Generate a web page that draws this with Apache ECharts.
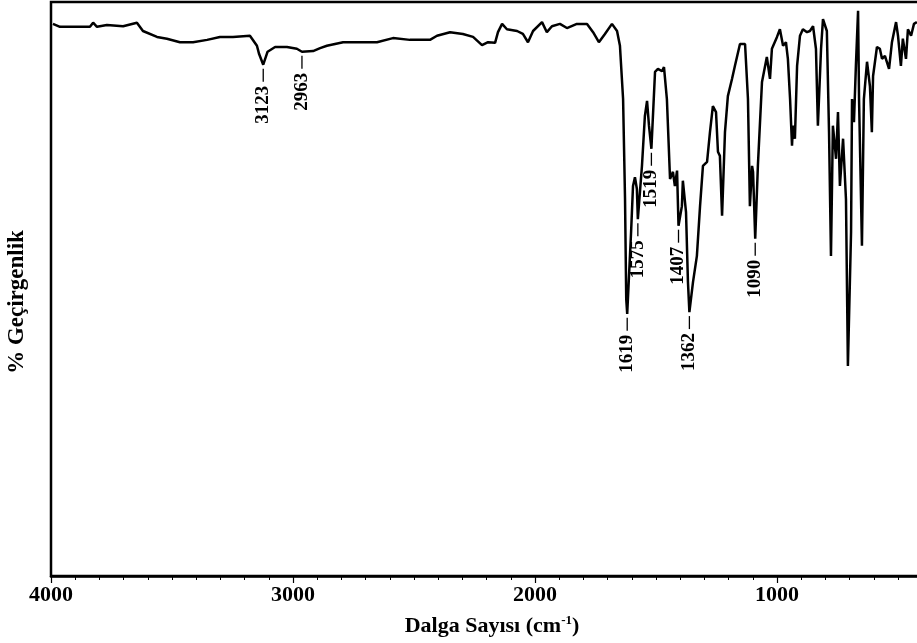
<!DOCTYPE html>
<html>
<head>
<meta charset="utf-8">
<script src="https://cdn.jsdelivr.net/npm/echarts@6/dist/echarts.min.js"></script>
<style>
  html, body { margin: 0; padding: 0; background: #fff; }
  #chart { width: 917px; height: 643px; }
</style>
</head>
<body>
<div id="chart"></div>
<script>
// IR spektrumu: dalga sayısı (cm-1) ve % geçirgenlik
const wavenumber = [
  3992, 3963, 3909, 3839, 3826, 3810, 3769, 3702, 3645, 3620, 3562, 3521, 3467, 3413, 3355, 3302,
  3248, 3178, 3149, 3140, 3123, 3105, 3074, 3025, 2984, 2963, 2917, 2888, 2860, 2793, 2723, 2653,
  2587, 2517, 2434, 2405, 2351, 2298, 2256, 2219, 2194, 2165, 2153, 2136, 2116, 2074, 2050, 2029,
  2008, 1971, 1951, 1930, 1897, 1868, 1827, 1785, 1760, 1736, 1711, 1682, 1661, 1649, 1636, 1628,
  1623, 1619, 1603, 1595, 1587, 1579, 1575, 1558, 1546, 1537, 1529, 1519, 1504, 1492, 1475, 1467,
  1455, 1442, 1430, 1422, 1413, 1407, 1393, 1389, 1376, 1368, 1362, 1347, 1331, 1318, 1306, 1289,
  1277, 1265, 1252, 1244, 1236, 1227, 1215, 1203, 1186, 1174, 1153, 1132, 1120, 1112, 1103, 1099,
  1090, 1079, 1062, 1042, 1029, 1021, 1000, 988, 975, 963, 955, 946, 938, 934, 926, 917,
  905, 893, 876, 864, 851, 839, 831, 818, 810, 794, 785, 777, 769, 756, 748, 740,
  727, 715, 707, 694, 690, 682, 674, 665, 661, 649, 641, 628, 616, 608, 603, 587,
  575, 566, 554, 537, 525, 508, 500, 488, 480, 467, 459, 446, 434, 422
]
const transmittance = [
  96.3, 95.8, 95.8, 95.8, 96.5, 95.8, 96.1, 95.9, 96.5, 95.1, 94.1, 93.8, 93.2, 93.2, 93.6, 94.1,
  94.1, 94.3, 92.6, 91.2, 89.4, 91.6, 92.4, 92.4, 92.1, 91.6, 91.7, 92.2, 92.6, 93.2, 93.2, 93.2,
  93.9, 93.6, 93.6, 94.3, 94.9, 94.6, 94.1, 92.7, 93.2, 93.1, 94.9, 96.3, 95.4, 95.1, 94.6, 93.2,
  95.1, 96.6, 94.9, 95.9, 96.3, 95.6, 96.3, 96.3, 94.9, 93.2, 94.6, 96.3, 95.1, 92.6, 83.6, 66.7,
  49.8, 47.3, 61.1, 68.9, 70.4, 68.4, 63.3, 72.3, 80.7, 83.3, 79.1, 75.2, 88.2, 88.7, 88.3, 89.0,
  83.6, 70.1, 71.3, 68.9, 71.5, 62.2, 65.5, 69.8, 64.5, 52.7, 47.6, 52.7, 57.1, 65.5, 72.3, 73.0,
  78.0, 82.4, 81.4, 74.7, 74.0, 63.9, 78.0, 84.1, 87.0, 89.2, 92.9, 92.9, 83.6, 65.5, 72.3, 71.3,
  60.0, 72.3, 86.5, 90.7, 87.0, 92.1, 94.1, 95.4, 92.6, 93.2, 90.4, 83.6, 75.7, 79.1, 76.9, 89.2,
  94.3, 95.4, 94.9, 95.1, 95.9, 92.1, 79.1, 92.1, 97.1, 95.1, 78.0, 57.1, 79.1, 73.5, 81.4, 68.9,
  76.9, 66.7, 38.5, 61.1, 83.6, 79.7, 89.2, 98.5, 83.6, 58.8, 83.6, 89.9, 85.8, 78.0, 87.5, 92.4,
  92.1, 90.4, 90.9, 88.7, 93.2, 96.6, 94.3, 89.2, 93.8, 90.4, 95.4, 94.3, 96.3, 96.6
]

// işaretlenen pikler
const peakWavenumbers = [3123, 2963, 1619, 1575, 1519, 1407, 1362, 1090]
const peakLabels = ['3123', '2963', '1619', '1575', '1519', '1407', '1362', '1090']

const SERIF = '"Liberation Serif", "Times New Roman", serif'

const spectrum = wavenumber.map((w, i) => [w, transmittance[i]])
const peaks = peakWavenumbers.map((w) => [w, transmittance[wavenumber.indexOf(w)]])

const chart = echarts.init(document.getElementById('chart'))

const option = {
  animation: false,
  backgroundColor: '#fff',
  grid: {
    left: 51,
    top: 2,
    bottom: 67,
    width: 968,
    outerBoundsMode: 'none',
    containLabel: false,
    show: true,
    borderColor: '#000',
    borderWidth: 2.5,
  },
  xAxis: {
    type: 'value',
    inverse: true,
    min: 0,
    max: 4000,
    interval: 1000,
    axisLine: { lineStyle: { color: '#000', width: 2.5 } },
    axisTick: { length: 7, lineStyle: { color: '#000', width: 1.2 } },
    minorTick: { show: true, splitNumber: 10, length: 4, lineStyle: { color: '#000', width: 1 } },
    splitLine: { show: false },
    axisLabel: {
      color: '#000',
      fontFamily: SERIF,
      fontWeight: 'bold',
      fontSize: 22,
      margin: 8,
      formatter: (v) => String(v),
    },
  },
  yAxis: {
    type: 'value',
    min: 3,
    max: 100,
    axisLine: { show: true, lineStyle: { color: '#000', width: 2.5 } },
    axisTick: { show: false },
    axisLabel: { show: false },
    splitLine: { show: false },
  },
  graphic: [
    {
      type: 'text',
      x: 17,
      y: 302,
      rotation: Math.PI / 2,
      style: {
        text: '% Geçirgenlik',
        font: 'bold 23px ' + SERIF,
        fill: '#000',
        align: 'center',
        verticalAlign: 'middle',
      },
    },
    {
      type: 'text',
      x: 492,
      y: 626,
      style: {
        text: '{b|Dalga Sayısı (cm}{s|-1}{b|)}',
        fill: '#000',
        align: 'center',
        verticalAlign: 'middle',
        rich: {
          b: { font: 'bold 22px ' + SERIF, fill: '#000' },
          s: { font: 'bold 13px ' + SERIF, fill: '#000', verticalAlign: 'top', padding: [0, 0, 10, 0] },
        },
      },
    },
  ],
  series: [
    {
      type: 'line',
      data: spectrum,
      showSymbol: false,
      lineStyle: { color: '#000', width: 2.5 },
      z: 3,
    },
    {
      type: 'custom',
      data: peaks,
      z: 4,
      renderItem: (params, api) => {
        const p = api.coord([api.value(0), api.value(1)])
        return {
          type: 'group',
          children: [
            {
              type: 'line',
              shape: { x1: p[0], y1: p[1] + 4, x2: p[0], y2: p[1] + 17 },
              style: { stroke: '#000', lineWidth: 1.3 },
            },
            {
              type: 'text',
              x: p[0],
              y: p[1] + 21,
              rotation: Math.PI / 2,
              style: {
                text: peakLabels[params.dataIndex],
                font: 'bold 19px ' + SERIF,
                fill: '#000',
                align: 'right',
                verticalAlign: 'middle',
              },
            },
          ],
        }
      },
    },
  ],
}

chart.setOption(option)
</script>
</body>
</html>
